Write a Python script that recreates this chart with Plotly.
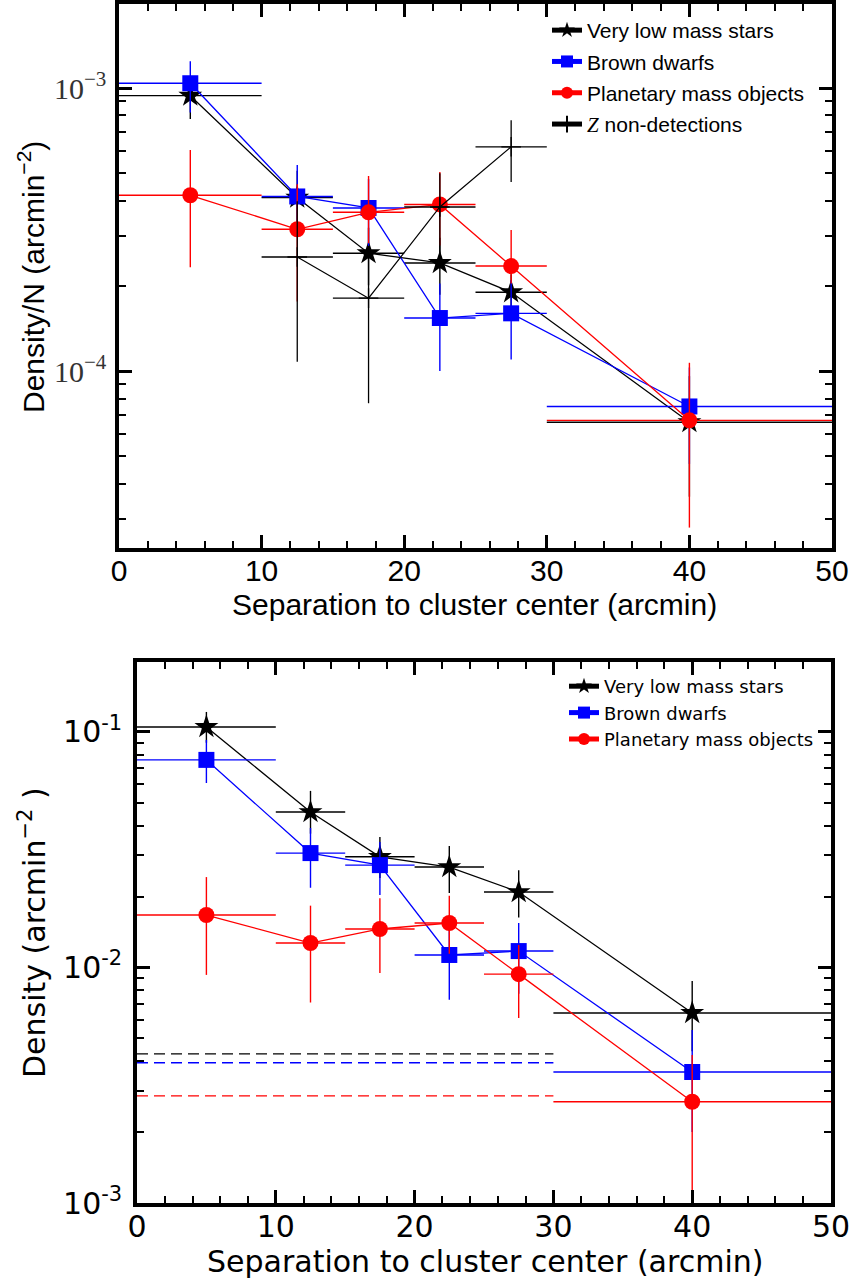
import plotly.graph_objects as go

# ---------------- data ----------------
bins_x = [5, 12.5, 17.5, 22.5, 27.5, 40]
bins_half = [5, 2.5, 2.5, 2.5, 2.5, 10]

# Top panel: Density / N (arcmin^-2)
vlm_n = [9.4e-4, 4.1e-4, 2.61e-4, 2.41e-4, 1.90e-4, 6.6e-5]
vlm_n_up = [1.63e-4, 1.0e-4, 6.0e-5, 5.5e-5, 3.0e-5, 3.0e-5]
vlm_n_dn = [1.63e-4, 1.0e-4, 6.0e-5, 5.5e-5, 3.0e-5, 3.0e-5]

bd_n = [1.04e-3, 4.14e-4, 3.77e-4, 1.54e-4, 1.60e-4, 7.5e-5]
bd_n_up = [2.05e-4, 1.21e-4, 1.0e-4, 5.0e-5, 5.0e-5, 2.8e-5]
bd_n_dn = [2.20e-4, 1.0e-4, 1.0e-4, 5.4e-5, 5.0e-5, 2.8e-5]

pmo_n = [4.18e-4, 3.17e-4, 3.64e-4, 3.88e-4, 2.35e-4, 6.7e-5]
pmo_n_up = [1.86e-4, 1.40e-4, 1.25e-4, 1.17e-4, 8.0e-5, 4.0e-5]
pmo_n_dn = [1.85e-4, 1.41e-4, 8.1e-5, 1.10e-4, 3.1e-5, 3.9e-5]

z_x = [12.5, 17.5, 22.5, 27.5]
z_half = [2.5, 2.5, 2.5, 2.5]
z_n = [2.53e-4, 1.81e-4, 3.80e-4, 6.20e-4]
z_n_up = [1.45e-4, 9.0e-5, 1.20e-4, 1.50e-4]
z_n_dn = [1.45e-4, 1.04e-4, 1.50e-4, 1.54e-4]

# Bottom panel: Density (arcmin^-2)
vlm_d = [0.105, 0.0457, 0.0295, 0.0267, 0.0209, 0.00641]
vlm_d_up = [0.0166, 0.0105, 0.0063, 0.0061, 0.0050, 0.00236]
vlm_d_dn = [0.0150, 0.0087, 0.0055, 0.0060, 0.0046, 0.0020]

bd_d = [0.0761, 0.0306, 0.0272, 0.0113, 0.01174, 0.00360]
bd_d_up = [0.0164, 0.0085, 0.0069, 0.0035, 0.00371, 0.00183]
bd_d_dn = [0.0154, 0.0088, 0.0069, 0.0040, 0.0040, 0.0016]

pmo_d = [0.0167, 0.0127, 0.01457, 0.01545, 0.00937, 0.00269]
pmo_d_up = [0.0075, 0.0056, 0.0051, 0.0047, 0.0031, 0.00156]
pmo_d_dn = [0.0074, 0.0056, 0.0051, 0.0040, 0.00327, 0.0018]

# background levels (dashed), spanning 0-30 arcmin
bg_x = [0, 30]
bg_vlm = 0.00430
bg_bd = 0.00394
bg_pmo = 0.00285

names = ["Very low mass stars", "Brown dwarfs", "Planetary mass objects"]
z_name = "<span style='font-family:Liberation Serif'><i>Z</i></span> non-detections"

top_ytickvals = [1e-3, 1e-4]
top_yticktext = ["10<sup>\u22123</sup>", "10<sup>\u22124</sup>"]
bot_ytickvals = [1e-1, 1e-2, 1e-3]
bot_yticktext = ["10<sup>-1</sup>", "10<sup>-2</sup>", "10<sup>-3</sup>"]
xtickvals = [0, 10, 20, 30, 40, 50]

BLACK, BLUE, RED = "#000000", "#0000ff", "#ff0000"

fig = go.Figure()


def add_series(x, y, xe, yp, ym, color, symbol, size, name, xa, ya, legend, group):
    fig.add_trace(go.Scatter(
        x=x, y=y, mode="lines+markers", name=name,
        line=dict(color=color, width=1.3),
        marker=dict(symbol=symbol, size=size, color=color, line=dict(width=0)),
        error_x=dict(type="data", array=xe, symmetric=True, color=color, thickness=1.4, width=0),
        error_y=dict(type="data", array=yp, arrayminus=ym, symmetric=False,
                     color=color, thickness=1.4, width=0),
        xaxis=xa, yaxis=ya, legend=legend, legendgroup=group,
    ))


# ---- top panel ----
add_series(bins_x, vlm_n, bins_half, vlm_n_up, vlm_n_dn, BLACK, "star", 18, names[0], "x", "y", "legend", "t1")
add_series(bins_x, bd_n, bins_half, bd_n_up, bd_n_dn, BLUE, "square", 16, names[1], "x", "y", "legend", "t2")
add_series(bins_x, pmo_n, bins_half, pmo_n_up, pmo_n_dn, RED, "circle", 16, names[2], "x", "y", "legend", "t3")
fig.add_trace(go.Scatter(
    x=z_x, y=z_n, mode="lines+markers", name=z_name,
    line=dict(color=BLACK, width=1.2),
    marker=dict(symbol="cross-thin", size=14, color=BLACK, line=dict(color=BLACK, width=1.3)),
    error_x=dict(type="data", array=z_half, symmetric=True, color=BLACK, thickness=1.3, width=0),
    error_y=dict(type="data", array=z_n_up, arrayminus=z_n_dn, symmetric=False,
                 color=BLACK, thickness=1.3, width=0),
    xaxis="x", yaxis="y", legend="legend", legendgroup="t4",
))

# ---- bottom panel ----
for lvl, col in [(bg_vlm, BLACK), (bg_bd, BLUE), (bg_pmo, RED)]:
    fig.add_trace(go.Scatter(
        x=bg_x, y=[lvl, lvl], mode="lines", showlegend=False,
        line=dict(color=col, width=1.3, dash="11px,6px"),
        xaxis="x2", yaxis="y2", hoverinfo="skip",
    ))
add_series(bins_x, vlm_d, bins_half, vlm_d_up, vlm_d_dn, BLACK, "star", 18, names[0], "x2", "y2", "legend2", "b1")
add_series(bins_x, bd_d, bins_half, bd_d_up, bd_d_dn, BLUE, "square", 16, names[1], "x2", "y2", "legend2", "b2")
add_series(bins_x, pmo_d, bins_half, pmo_d_up, pmo_d_dn, RED, "circle", 16, names[2], "x2", "y2", "legend2", "b3")


def minor_log(lo, hi):
    vals = []
    for e in range(lo, hi + 1):
        for k in range(2, 10):
            vals.append(k * 10.0 ** e)
    return vals


W, H = 852, 1281
TOPF = "Liberation Sans"
BOTF = "DejaVu Sans"

frame = dict(showline=True, linecolor="black", linewidth=3.5, mirror="allticks",
             ticks="inside", ticklen=13, tickwidth=2.5, tickcolor="black",
             showgrid=False, zeroline=False, automargin=False)

fig.update_layout(
    template="none",
    width=W, height=H, autosize=False,
    margin=dict(l=0, r=0, t=0, b=0, pad=0),
    paper_bgcolor="white", plot_bgcolor="white",
    showlegend=True,
    xaxis=dict(domain=[119 / W, 832 / W], anchor="y", range=[0, 50],
               tickvals=xtickvals, ticktext=[str(v) for v in xtickvals],
               tickfont=dict(family=TOPF, size=30, color="black"),
               minor=dict(ticks="inside", dtick=2, tick0=0, ticklen=7, tickwidth=1.5,
                          tickcolor="black", showgrid=False),
               ticklabelstandoff=-7, **frame),
    yaxis=dict(domain=[1 - 548 / H, 1 - 4 / H], anchor="x", type="log",
               range=[-4.625, -2.703],
               tickvals=top_ytickvals, ticktext=top_yticktext,
               tickfont=dict(family="Liberation Serif", size=30, color="#333333"),
               minor=dict(ticks="inside", tickmode="array", tickvals=minor_log(-5, -3),
                          ticklen=7, tickwidth=1.5, tickcolor="black", showgrid=False),
               ticklabelstandoff=3, **frame),
    xaxis2=dict(domain=[137 / W, 831 / W], anchor="y2", range=[0, 50],
                tickvals=xtickvals, ticktext=[str(v) for v in xtickvals],
                tickfont=dict(family=BOTF, size=30, color="black"),
                minor=dict(ticks="inside", dtick=2, tick0=0, ticklen=7, tickwidth=1.5,
                           tickcolor="black", showgrid=False),
                ticklabelstandoff=-6, **frame),
    yaxis2=dict(domain=[1 - 1203 / H, 1 - 662 / H], anchor="x2", type="log",
                range=[-3, -0.703],
                tickvals=bot_ytickvals, ticktext=bot_yticktext,
                tickfont=dict(family=BOTF, size=30, color="black"),
                minor=dict(ticks="inside", tickmode="array", tickvals=minor_log(-4, -1),
                           ticklen=7, tickwidth=1.5, tickcolor="black", showgrid=False),
                ticklabelstandoff=5, **frame),
    legend=dict(x=547 / W, y=1 - 10 / H, xanchor="left", yanchor="top",
                bgcolor="rgba(0,0,0,0)", borderwidth=0,
                font=dict(family=TOPF, size=21, color="black"),
                tracegroupgap=1, itemsizing="constant"),
    legend2=dict(x=564 / W, y=1 - 668 / H, xanchor="left", yanchor="top",
                 bgcolor="rgba(0,0,0,0)", borderwidth=0,
                 font=dict(family=BOTF, size=18, color="black"),
                 tracegroupgap=0, itemsizing="constant"),
    annotations=[
        dict(text="Separation to cluster center (arcmin)", x=474.5 / W, y=1 - 604 / H,
             xref="paper", yref="paper", xanchor="center", yanchor="middle", showarrow=False,
             font=dict(family=TOPF, size=30, color="black")),
        dict(text="Density/N (arcmin<sup>\u22122</sup>)", x=31 / W, y=1 - 277 / H,
             xref="paper", yref="paper", xanchor="center", yanchor="middle", showarrow=False,
             textangle=-90, font=dict(family=TOPF, size=30, color="black")),
        dict(text="Separation to cluster center (arcmin)", x=485 / W, y=1 - 1261 / H,
             xref="paper", yref="paper", xanchor="center", yanchor="middle", showarrow=False,
             font=dict(family=BOTF, size=30, color="black")),
        dict(text="Density (arcmin<sup>\u22122</sup> )", x=32 / W, y=1 - 933 / H,
             xref="paper", yref="paper", xanchor="center", yanchor="middle", showarrow=False,
             textangle=-90, font=dict(family=BOTF, size=30, color="black")),
    ],
)

fig.write_html("out.html")
